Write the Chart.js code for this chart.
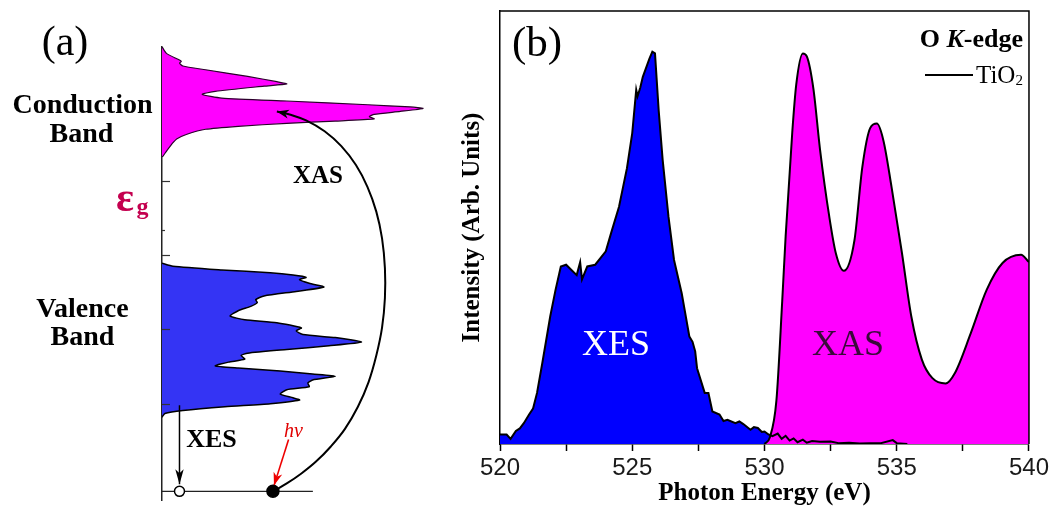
<!DOCTYPE html>
<html><head><meta charset="utf-8">
<script src="https://cdn.jsdelivr.net/npm/chart.js@4.4.1/dist/chart.umd.min.js"></script>
<style>
html,body{margin:0;padding:0;background:#fff;}
#wrap{position:relative;width:1052px;height:508px;overflow:hidden;background:#fff;}
#ca{position:absolute;left:0;top:0;}
#cb{position:absolute;left:450px;top:0;}
</style></head><body>
<div id="wrap"><canvas id="ca" width="450" height="508"></canvas><canvas id="cb" width="602" height="508"></canvas></div>
<script>
// ---------- Panel (a): schematic density of states ----------
const cbEnergy = [4.32,4.33,4.40,4.47,4.51,4.56,4.62,4.69,4.73,4.77,4.80,4.83,4.86,4.89,4.93,4.97,4.99,5.02,5.07,5.11,5.16,5.20,5.27,5.30,5.33,5.40,5.49,5.54,5.58,5.60,5.62,5.71,5.80];
const cbDos    = [0,0.4,1.8,3.3,4.2,5.6,9.3,16.7,29.2,47.8,66.4,81.3,79.4,81.3,91.3,100,95.1,78.9,47.8,22.9,15.4,20.4,39.1,47.8,44.0,32.8,16.7,8.0,6.7,7.4,6.7,1.7,0];
const vbEnergy = [0.82,0.87,0.91,0.96,1.00,1.05,1.08,1.13,1.19,1.23,1.28,1.32,1.37,1.40,1.44,1.48,1.51,1.56,1.60,1.65,1.68,1.73,1.78,1.83,1.89,1.93,1.98,2.02,2.09,2.13,2.18,2.25,2.31,2.36,2.40,2.45,2.51,2.57,2.62,2.67,2.70,2.73,2.76,2.80,2.85,2.89];
const vbDos    = [0,1.1,8.0,24.1,41.5,52.7,50.2,45.3,47.8,56.4,55.9,57.7,66.4,57.7,45.3,29.2,20.4,25.5,31.7,30.3,32.8,47.8,64.0,76.4,66.4,54.0,51.4,53.4,44.0,31.7,26.1,29.2,34.0,36.5,35.9,39.1,51.4,62.0,56.4,52.7,55.2,50.2,41.5,22.9,4.2,0];
const energyTicksMajor = [1,2,3,4];
const energyTicksMinor = [3.33];
const levelLineDos = [0, 57.8];
const levelLineEnergy = [-0.177, -0.177];
const coreStateDos = [6.7, 42.5];
const coreStateEnergy = [-0.177, -0.177];
const xesArrowDos = [6.7, 6.7];
const xesArrowEnergy = [0.98, -0.08];
const hvArrowDos = [48.5, 42.9];
const hvArrowEnergy = [0.52, -0.1];
const xasArcDos = [42.5,47.8,53.4,59.0,64.6,70.1,75.0,79.1,82.1,84.3,85.4,85.4,84.3,82.1,78.7,74.3,68.7,62.3,55.2,48.9,44.0];
const xasArcEnergy = [-0.177,-0.071,0.063,0.223,0.423,0.663,0.956,1.289,1.649,2.023,2.423,2.823,3.223,3.583,3.916,4.209,4.463,4.663,4.809,4.889,4.929];

// ---------- Panel (b): O K-edge spectra ----------
const xesEnergy = [520.0,520.25,520.4,520.6,520.75,520.9,521.1,521.25,521.4,521.6,521.9,522.1,522.3,522.5,522.7,522.9,523.03,523.1,523.3,523.6,524.0,524.2,524.5,524.8,525.0,525.15,525.2,525.3,525.4,525.65,525.76,525.86,526.0,526.15,526.37,526.58,526.87,527.16,527.28,527.38,527.45,527.74,527.88,528.03,528.3,528.45,528.6,528.9,529.05,529.2,529.47,529.6,529.75,529.9,530.0,530.15,530.3,530.5,530.65,530.8,530.95,531.1,531.25,531.45,531.6,531.8,532.1,532.5,532.8,533.2,533.6,534.0,534.4,534.85,535.0,535.4];
const xesIntensity = [2.2,2.2,1.2,3,3.6,4.8,6.8,8.2,11.8,18.7,29.5,35.6,41,41.4,40.2,39,42,38,41,41.4,44.5,48.7,54.8,63.7,71.8,81.8,80.3,82.2,84.8,89,90.6,90.2,77,65.6,52.5,42.5,34.8,24.8,23.6,21.4,17.5,11.8,11.8,7.5,6.8,5.3,5.6,4.8,5.2,4.6,3.3,3.9,3.7,2.8,2.9,2.2,1.8,2.4,1.2,1.9,0.8,1.3,0.4,1.0,0.3,0.7,0.5,0.6,0.2,0.3,0.1,0.2,0.2,0.9,0.2,0];
const xasEnergy = [530.0,530.2,530.45,530.67,530.8,531.05,531.2,531.45,531.6,531.85,532.1,532.45,532.7,533.0,533.4,533.7,534.0,534.25,534.5,534.8,535.2,535.55,535.95,536.35,536.85,537.2,537.8,538.4,539.0,539.7,540.0];
const xasIntensity = [0,1.5,10,33,48,72,83,90.2,89.5,82,68,52.5,44,40,47,64,73,74,70,59.5,44,29.5,19.5,15.2,14,16.4,25.6,35.6,41.8,43.7,42];
const photonTickLabels = [520,525,530,535,540];

function pts(xs, ys) { return xs.map((v, i) => ({x: v, y: ys[i]})); }

const SERIF = '"Liberation Serif", "Times New Roman", serif';
const SANS = '"Liberation Sans", Arial, sans-serif';

function drawHead(ctx, tipX, tipY, fromX, fromY, len, half, color) {
  const a = Math.atan2(tipY - fromY, tipX - fromX);
  ctx.save();
  ctx.translate(tipX, tipY);
  ctx.rotate(a);
  ctx.beginPath();
  ctx.moveTo(0, 0);
  ctx.lineTo(-len, -half);
  ctx.lineTo(-len * 0.72, 0);
  ctx.lineTo(-len, half);
  ctx.closePath();
  ctx.fillStyle = color;
  ctx.fill();
  ctx.restore();
}

const arrowPlugin = {
  id: 'arrowHeads',
  afterDatasetsDraw(chart) {
    const ctx = chart.ctx;
    chart.data.datasets.forEach((ds, i) => {
      if (!ds.arrowHead) return;
      const meta = chart.getDatasetMeta(i);
      const n = meta.data.length;
      const tip = meta.data[n - 1];
      const prev = meta.data[n - 2];
      let fx = prev.x, fy = prev.y;
      if (ds.curved && tip.cp1x !== undefined && (Math.abs(tip.cp1x - tip.x) + Math.abs(tip.cp1y - tip.y)) > 1) {
        fx = tip.cp1x; fy = tip.cp1y;
      }
      drawHead(ctx, tip.x, tip.y, fx, fy, ds.arrowHead.len, ds.arrowHead.half, ds.borderColor);
    });
  }
};

const axisTicksA = {
  id: 'axisTicksA',
  afterDatasetsDraw(chart) {
    const ctx = chart.ctx;
    const y = chart.scales.y, x = chart.scales.x;
    const x0 = x.getPixelForValue(0);
    ctx.save();
    ctx.strokeStyle = '#333';
    ctx.lineWidth = 1.2;
    energyTicksMajor.forEach(v => {
      const py = Math.round(y.getPixelForValue(v)) + 0.5;
      ctx.beginPath(); ctx.moveTo(x0, py); ctx.lineTo(x0 + 8, py); ctx.stroke();
    });
    energyTicksMinor.forEach(v => {
      const py = Math.round(y.getPixelForValue(v)) + 0.5;
      ctx.beginPath(); ctx.moveTo(x0, py); ctx.lineTo(x0 + 3, py); ctx.stroke();
    });
    ctx.restore();
  }
};

const labelsA = {
  id: 'labelsA',
  afterDraw(chart) {
    const ctx = chart.ctx;
    ctx.save();
    ctx.textBaseline = 'alphabetic';
    ctx.textAlign = 'center';
    ctx.fillStyle = '#000';
    ctx.font = '42px ' + SERIF;
    ctx.fillText('(a)', 65, 55);
    ctx.font = 'bold 28px ' + SERIF;
    ctx.fillText('Conduction', 82.5, 113);
    ctx.fillText('Band', 81.5, 142);
    ctx.fillText('Valence', 82.5, 317);
    ctx.fillText('Band', 82.5, 345);
    ctx.font = 'bold 25px ' + SERIF;
    ctx.fillText('XAS', 318, 183);
    ctx.font = 'bold 26px ' + SERIF;
    ctx.fillText('XES', 211.5, 447);
    ctx.textAlign = 'left';
    ctx.fillStyle = '#e00000';
    ctx.font = 'italic 20px ' + SERIF;
    ctx.fillText('hv', 284, 437);
    ctx.fillStyle = '#c4004f';
    ctx.font = 'bold 42px ' + SERIF;
    ctx.fillText('\u03b5', 116, 211);
    ctx.font = 'bold 24px ' + SERIF;
    ctx.fillText('g', 136.5, 214);
    ctx.restore();
  }
};

new Chart(document.getElementById('ca'), {
  type: 'line',
  data: {
    datasets: [
      { label: 'core states', data: pts(coreStateDos, coreStateEnergy), showLine: false,
        pointRadius: [5, 6], pointBackgroundColor: ['#ffffff', '#000000'], pointBorderColor: '#000',
        pointBorderWidth: 1.5, order: 0 },
      { label: 'XES arrow', data: pts(xesArrowDos, xesArrowEnergy), borderColor: '#000', borderWidth: 1.5,
        pointRadius: 0, fill: false, arrowHead: {len: 15, half: 4.2}, order: 1 },
      { label: 'hv arrow', data: pts(hvArrowDos, hvArrowEnergy), borderColor: '#ee0000', borderWidth: 1.6,
        pointRadius: 0, fill: false, arrowHead: {len: 13, half: 4.5}, order: 1 },
      { label: 'XAS arc', data: pts(xasArcDos, xasArcEnergy), borderColor: '#000', borderWidth: 2,
        pointRadius: 0, fill: false, tension: 0.4, curved: true,
        arrowHead: {len: 12, half: 4.5}, order: 1 },
      { label: 'core level', data: pts(levelLineDos, levelLineEnergy), borderColor: '#222', borderWidth: 1.3,
        pointRadius: 0, fill: false, order: 2 },
      { label: 'Conduction band', data: pts(cbDos, cbEnergy), borderColor: '#2a002a', borderWidth: 1.2,
        backgroundColor: '#ff00ff', fill: 'origin', pointRadius: 0, tension: 0.2, order: 3 },
      { label: 'Valence band', data: pts(vbDos, vbEnergy), borderColor: '#000', borderWidth: 1.5,
        backgroundColor: '#3434f4', fill: 'origin', pointRadius: 0, tension: 0.2, order: 3 }
    ]
  },
  options: {
    indexAxis: 'y',
    responsive: false,
    animation: false,
    devicePixelRatio: 1,
    events: [],
    layout: { padding: { left: 162, right: 0, top: 46.7, bottom: 3.8 } },
    plugins: { legend: { display: false }, tooltip: { enabled: false } },
    scales: {
      x: { type: 'linear', min: 0, max: 107.46, display: false },
      y: { type: 'linear', min: -0.3, max: 5.8, display: true, position: 'left',
           ticks: { display: false }, grid: { display: false, drawTicks: false },
           border: { display: true, color: '#222', width: 1.5 } }
    }
  },
  plugins: [axisTicksA, arrowPlugin, labelsA]
});

// ---------- Panel (b) chart ----------
const frameB = {
  id: 'frameB',
  afterDatasetsDraw(chart) {
    const {ctx, chartArea: a} = chart;
    ctx.save();
    ctx.strokeStyle = '#000';
    ctx.lineWidth = 1.5;
    ctx.beginPath();
    ctx.moveTo(a.left, a.top);
    ctx.lineTo(a.right, a.top);
    ctx.lineTo(a.right, a.bottom);
    ctx.stroke();
    ctx.restore();
  }
};

const labelsB = {
  id: 'labelsB',
  afterDraw(chart) {
    const ctx = chart.ctx;
    ctx.save();
    ctx.textBaseline = 'alphabetic';
    ctx.fillStyle = '#000';
    ctx.textAlign = 'center';
    ctx.font = '43px ' + SERIF;
    ctx.fillText('(b)', 87, 56);
    const fB = 'bold 26px ' + SERIF, fBI = 'italic bold 26px ' + SERIF;
    ctx.textAlign = 'left';
    ctx.font = fB; const w1 = ctx.measureText('O ').width; const w3 = ctx.measureText('-edge').width;
    ctx.font = fBI; const w2 = ctx.measureText('K').width;
    let x0 = 573 - (w1 + w2 + w3);
    ctx.font = fB; ctx.fillText('O ', x0, 47);
    ctx.font = fBI; ctx.fillText('K', x0 + w1, 47);
    ctx.font = fB; ctx.fillText('-edge', x0 + w1 + w2, 47);
    ctx.strokeStyle = '#000'; ctx.lineWidth = 2;
    ctx.beginPath(); ctx.moveTo(475, 75); ctx.lineTo(523, 75); ctx.stroke();
    ctx.font = '25px ' + SERIF;
    ctx.fillText('TiO', 526, 83);
    const wT = ctx.measureText('TiO').width;
    ctx.font = '15px ' + SERIF;
    ctx.fillText('2', 526 + wT, 85);
    ctx.textAlign = 'center';
    ctx.font = '36px ' + SERIF;
    ctx.fillStyle = '#ffffff';
    ctx.fillText('XES', 166, 355);
    ctx.fillStyle = '#3a0a3a';
    ctx.fillText('XAS', 398, 355);
    ctx.restore();
  }
};

new Chart(document.getElementById('cb'), {
  type: 'line',
  data: {
    datasets: [
      { label: 'XES line', data: pts(xesEnergy, xesIntensity), borderColor: '#000', borderWidth: 2,
        pointRadius: 0, fill: false, order: 0 },
      { label: 'XAS', data: pts(xasEnergy, xasIntensity), borderColor: '#000', borderWidth: 2,
        backgroundColor: '#ff00ff', fill: 'origin', pointRadius: 0, cubicInterpolationMode: 'monotone', order: 1 },
      { label: 'XES', data: pts(xesEnergy, xesIntensity), borderWidth: 0, borderColor: 'rgba(0,0,0,0)',
        backgroundColor: '#0000ff', fill: 'origin', pointRadius: 0, order: 2 }
    ]
  },
  options: {
    responsive: false,
    animation: false,
    devicePixelRatio: 1,
    events: [],
    layout: { padding: { left: 0, right: 19, top: 11, bottom: 0 } },
    plugins: { legend: { display: false }, tooltip: { enabled: false } },
    scales: {
      x: {
        type: 'linear', min: 520, max: 540, position: 'bottom',
        afterFit(s) { s.height = 64; },
        ticks: { stepSize: 2.5, autoSkip: false, maxRotation: 0, padding: 3, color: '#1a1a1a',
                 font: { family: SANS, size: 24 },
                 callback: v => photonTickLabels.includes(v) ? String(v) : '' },
        grid: { display: true, drawOnChartArea: false, drawTicks: true, tickLength: 7, tickColor: '#000', tickWidth: 1.5 },
        border: { display: true, color: '#000', width: 1.5 },
        title: { display: true, text: 'Photon Energy (eV)', color: '#000',
                 font: { family: SERIF, size: 25, weight: 'bold', lineHeight: 1 }, padding: { top: 0, bottom: 2 } }
      },
      y: {
        type: 'linear', min: 0, max: 100, position: 'left',
        afterFit(s) { s.width = 50; },
        ticks: { display: false },
        grid: { display: false, drawTicks: false },
        border: { display: true, color: '#000', width: 1.5 },
        title: { display: true, text: 'Intensity (Arb. Units)', color: '#000',
                 font: { family: SERIF, size: 25, weight: 'bold', lineHeight: 1 }, padding: { top: 10, bottom: 0 } }
      }
    }
  },
  plugins: [frameB, labelsB]
});
</script>
</body></html>
